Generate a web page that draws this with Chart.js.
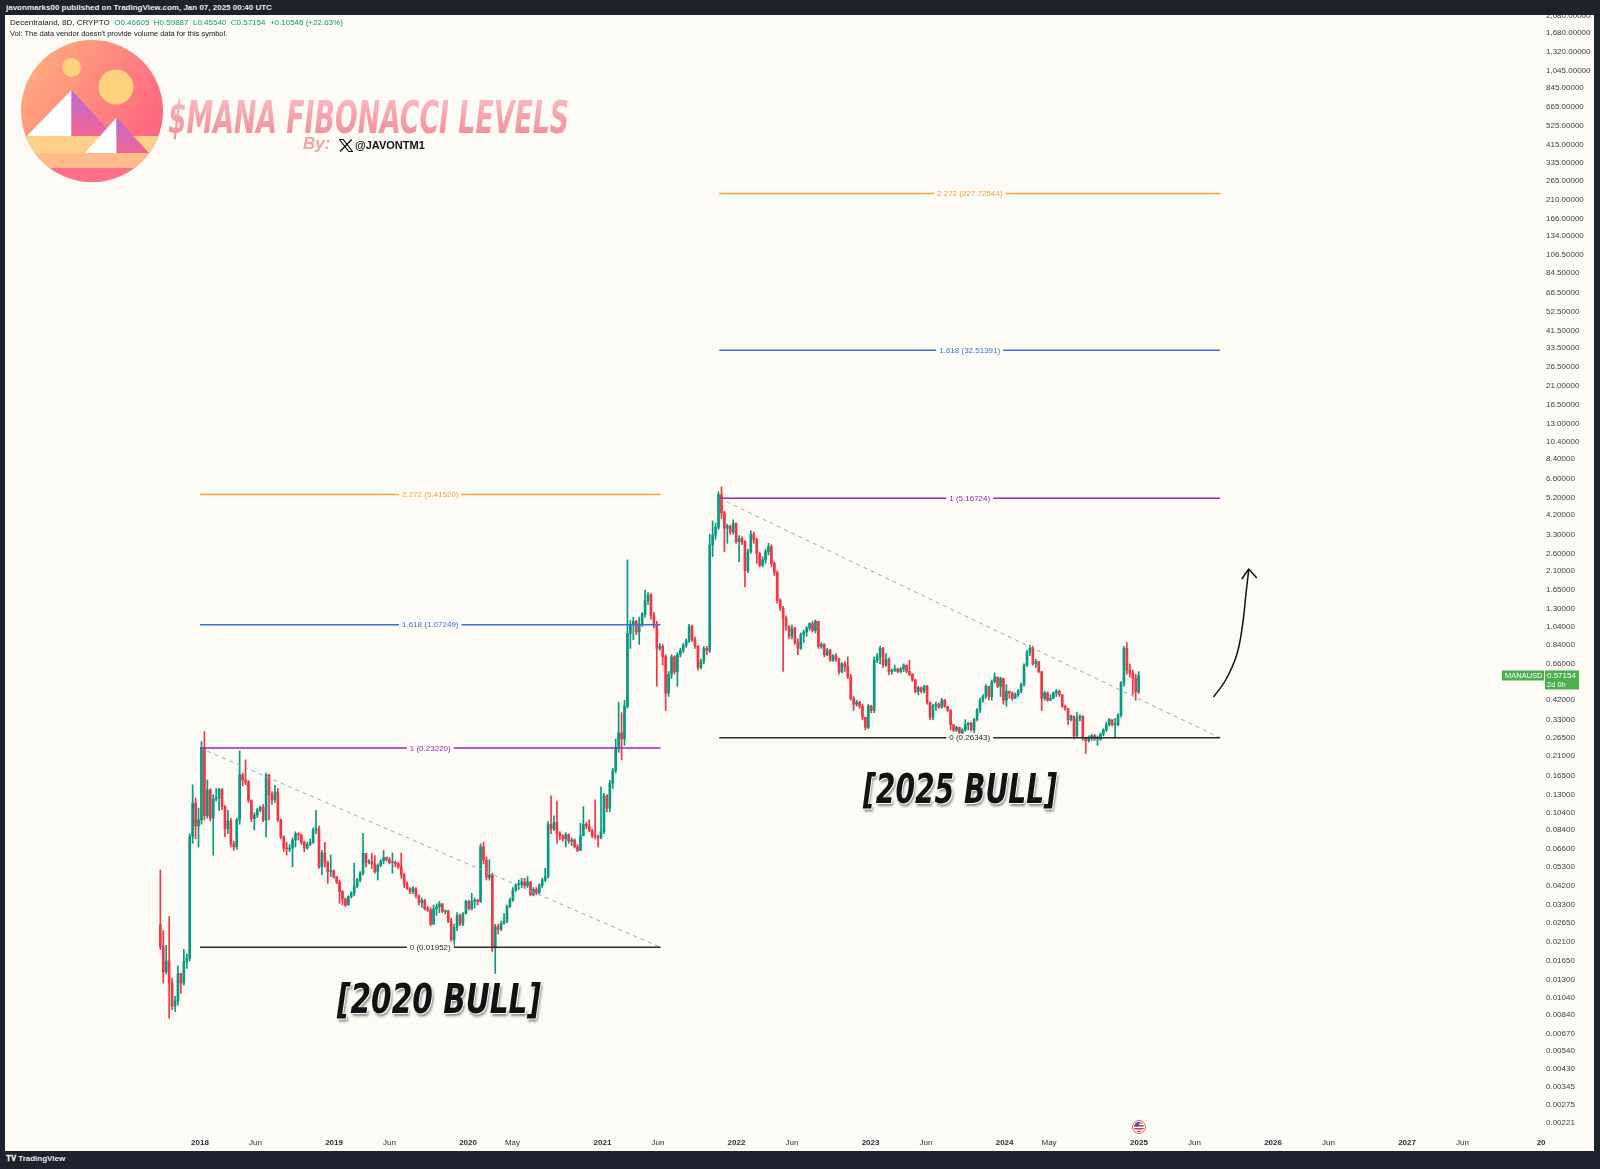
<!DOCTYPE html>
<html><head><meta charset="utf-8">
<script src="https://cdn.jsdelivr.net/npm/chart.js@4.4.1/dist/chart.umd.min.js"></script>
<style>
html,body{margin:0;padding:0;background:#1e222d;width:1600px;height:1169px;overflow:hidden;font-family:"Liberation Sans",Arial,sans-serif;}
.abs{position:absolute;white-space:nowrap;}
#pane{position:absolute;left:5px;top:15px;width:1589px;height:1136px;background:#fdfbf6;}
#chart{position:absolute;left:0;top:0;}
#topbar{left:6px;top:3px;color:#e8e9ec;font-size:8px;font-weight:bold;}
#legend1{left:10px;top:18px;color:#131722;font-size:8px;}
#legend1 .v{color:#089981;}
#legend2{left:10px;top:29px;color:#131722;font-size:7.5px;}
#title{left:168px;top:92px;font:italic bold 44px "Liberation Sans Narrow","DejaVu Sans Condensed","Liberation Sans",sans-serif;color:#f6a0a8;transform-origin:0 0;
  background:linear-gradient(180deg,#fbc3c8 0%,#f7a4ac 45%,#f08894 100%);-webkit-background-clip:text;background-clip:text;-webkit-text-fill-color:transparent;}
#by{left:303px;top:134px;font:italic bold 17px "Liberation Sans",sans-serif;color:#f4a3aa;}
#handle{left:355px;top:139px;font:bold 11px "Liberation Sans Narrow","Liberation Sans",sans-serif;color:#111;}
.bull{font:italic bold 40px "Liberation Sans Narrow","DejaVu Sans Condensed","Liberation Sans",sans-serif;color:#121212;transform-origin:0 0;
  text-shadow:0 0 1px #fff,1px 1px 0 #fff,2px 3px 3px rgba(0,0,0,0.45);}
#tvlogo{left:6px;top:1154px;color:#e8e9ec;font-size:8px;font-weight:bold;}
</style></head>
<body>
<div id="topbar" class="abs">javonmarks00 published on TradingView.com, Jan 07, 2025 00:40 UTC</div>
<div id="pane"><canvas id="chart" width="1589" height="1136"></canvas></div>
<div id="legend1" class="abs">Decentraland, 8D, CRYPTO&nbsp; <span class="v">O0.46605&nbsp; H0.59887&nbsp; L0.45540&nbsp; C0.57154&nbsp; +0.10546 (+22.63%)</span></div>
<div id="legend2" class="abs">Vol: The data vendor doesn't provide volume data for this symbol.</div>

<svg class="abs" style="left:0;top:0" width="200" height="200" viewBox="0 0 200 200">
  <defs>
    <linearGradient id="lg" x1="0" y1="0" x2="1" y2="0.6">
      <stop offset="0" stop-color="#ffb47c"/><stop offset="1" stop-color="#ff6480"/>
    </linearGradient>
    <linearGradient id="pg" x1="0" y1="0" x2="0" y2="1">
      <stop offset="0" stop-color="#b96ad6"/><stop offset="1" stop-color="#f26592"/>
    </linearGradient>
    <clipPath id="cc"><circle cx="92" cy="111" r="71"/></clipPath>
  </defs>
  <circle cx="92" cy="111" r="71" fill="url(#lg)"/>
  <g clip-path="url(#cc)">
    <circle cx="71.5" cy="67.5" r="9.5" fill="#ffd27e"/>
    <circle cx="116" cy="87" r="17.5" fill="#ffd27e"/>
    <polygon points="71.5,90 71.5,136 27,136" fill="#ffffff"/>
    <polygon points="71.5,90 114,136 71.5,136" fill="url(#pg)"/>
    <rect x="0" y="136" width="200" height="17" fill="#ffd08a"/>
    <polygon points="116.5,117.5 116.5,153 85,153" fill="#ffffff"/>
    <polygon points="116.5,117.5 149,153 116.5,153" fill="url(#pg)"/>
    <rect x="0" y="153" width="200" height="15" fill="#ffbb8c"/>
    <rect x="0" y="168" width="200" height="30" fill="#ff7088"/>
  </g>
</svg>
<div id="title" class="abs">$MANA FIBONACCI LEVELS</div>
<div id="by" class="abs">By:</div>
<svg class="abs" style="left:339px;top:139px" width="14" height="13" viewBox="0 0 14 13">
  <path d="M0.5 0.5 L4.2 0.5 L13.5 12.5 L9.8 12.5 Z" fill="none" stroke="#111" stroke-width="1.2"/>
  <path d="M12.8 0.5 L1 12.5" stroke="#111" stroke-width="1.3"/>
</svg>
<div id="handle" class="abs">@JAVONTM1</div>
<div id="bull1" class="abs bull">[2020 BULL]</div>
<div id="bull2" class="abs bull">[2025 BULL]</div>
<svg class="abs" style="left:1132px;top:1120px" width="14" height="14" viewBox="0 0 14 14">
  <defs><clipPath id="fc"><circle cx="7" cy="7" r="5"/></clipPath></defs>
  <circle cx="7" cy="7" r="6.5" fill="#fff" stroke="#e05a5a" stroke-width="1"/>
  <g clip-path="url(#fc)">
    <rect x="0" y="0" width="14" height="14" fill="#fff"/>
    <rect x="0" y="2" width="14" height="1.5" fill="#d33"/><rect x="0" y="5" width="14" height="1.5" fill="#d33"/>
    <rect x="0" y="8" width="14" height="1.5" fill="#d33"/><rect x="0" y="11" width="14" height="1.5" fill="#d33"/>
    <rect x="0" y="0" width="7" height="6.5" fill="#3b5bb5"/>
  </g>
</svg>
<div id="tvlogo" class="abs">&#x1D413;&#x1D415; TradingView</div>

<script>
// ---------------- DATA ----------------
const candleStart = '2017-09-15';   // first 8D candle
const candleStepDays = 8;
const firstOpen = 0.0258;
const closes = [
0.0197,0.0144,0.0165,0.0125,0.0094,0.0100,0.0141,0.0125,0.0163,0.0170,
0.0771,0.117,0.088,0.095,0.231,0.100,0.1377,0.097,0.123,0.125,
0.139,0.112,0.085,0.094,0.071,0.068,0.0949,0.166,0.156,0.152,
0.121,0.0965,0.1009,0.1074,0.111,0.095,0.166,0.130,0.122,0.134,
0.095,0.077,0.067,0.066,0.067,0.074,0.080,0.079,0.072,0.067,
0.070,0.072,0.0838,0.085,0.053,0.063,0.056,0.050,0.0505,0.047,
0.044,0.039,0.0355,0.033,0.0366,0.0382,0.0414,0.0450,0.0489,0.0627,
0.056,0.0565,0.055,0.050,0.054,0.057,0.0595,0.058,0.056,0.056,
0.055,0.053,0.048,0.043,0.0405,0.039,0.0405,0.037,0.034,0.035,
0.0315,0.031,0.026,0.0315,0.0323,0.0335,0.0305,0.0305,0.027,0.0214,
0.025,0.029,0.026,0.0297,0.0345,0.0315,0.0345,0.0351,0.0345,0.068,
0.0577,0.0465,0.048,0.0194,0.0252,0.0245,0.0262,0.027,0.0323,0.0351,
0.0398,0.0425,0.0425,0.044,0.042,0.044,0.0375,0.040,0.0385,0.042,
0.045,0.047,0.090,0.085,0.092,0.080,0.078,0.075,0.079,0.073,
0.074,0.068,0.065,0.078,0.090,0.088,0.083,0.078,0.077,0.076,
0.082,0.128,0.110,0.150,0.175,0.230,0.280,0.260,0.390,0.965,
1.07,1.12,0.98,1.08,1.22,1.45,1.55,1.20,1.06,0.80,
0.82,0.72,0.46,0.58,0.72,0.60,0.74,0.78,0.83,0.88,
1.05,0.89,0.82,0.63,0.68,0.80,0.78,2.89,3.27,3.60,
5.40,4.30,3.56,3.65,3.40,3.78,3.01,3.14,3.00,2.10,
2.66,3.30,3.10,2.60,2.25,2.40,2.66,2.83,2.30,2.05,
1.45,1.32,1.16,1.05,0.93,1.03,0.86,0.80,0.95,0.98,
1.03,1.09,1.00,1.12,0.82,0.84,0.74,0.78,0.69,0.73,
0.70,0.60,0.66,0.64,0.56,0.43,0.40,0.41,0.39,0.34,
0.30,0.39,0.37,0.69,0.72,0.80,0.65,0.70,0.60,0.61,
0.62,0.60,0.62,0.65,0.60,0.58,0.54,0.47,0.49,0.47,
0.50,0.41,0.34,0.39,0.40,0.385,0.42,0.39,0.37,0.31,
0.29,0.30,0.28,0.29,0.31,0.315,0.29,0.33,0.37,0.42,
0.44,0.50,0.44,0.53,0.56,0.50,0.55,0.42,0.47,0.46,
0.43,0.45,0.47,0.51,0.65,0.76,0.80,0.66,0.68,0.60,
0.43,0.46,0.42,0.43,0.46,0.47,0.45,0.39,0.38,0.33,
0.345,0.27,0.335,0.345,0.262,0.255,0.265,0.27,0.26,0.26,
0.275,0.29,0.31,0.33,0.31,0.31,0.35,0.52,0.80,0.61,
0.59,0.55,0.46605,0.57154];
const highs = [
0.051,0.024,0.020,0.0286,0.0133,0.0106,0.0155,0.0141,0.0190,0.0180,
0.080,0.147,0.125,0.110,0.251,0.285,0.156,0.140,0.130,0.140,
0.141,0.140,0.114,0.107,0.097,0.073,0.097,0.224,0.170,0.200,
0.155,0.122,0.104,0.110,0.113,0.115,0.170,0.168,0.135,0.146,
0.140,0.096,0.078,0.072,0.070,0.076,0.082,0.081,0.079,0.073,
0.072,0.075,0.086,0.107,0.088,0.065,0.072,0.057,0.0614,0.051,
0.047,0.045,0.0395,0.036,0.037,0.039,0.0555,0.046,0.050,0.0805,
0.062,0.058,0.0627,0.061,0.055,0.058,0.065,0.060,0.0595,0.063,
0.057,0.056,0.063,0.049,0.044,0.041,0.0415,0.041,0.0375,0.036,
0.0355,0.0325,0.032,0.033,0.0335,0.0345,0.0335,0.031,0.031,0.028,
0.026,0.030,0.0295,0.030,0.035,0.035,0.0382,0.036,0.0355,0.0705,
0.072,0.060,0.058,0.049,0.026,0.026,0.027,0.0297,0.033,0.036,
0.041,0.043,0.045,0.046,0.046,0.047,0.044,0.041,0.041,0.043,
0.046,0.052,0.093,0.128,0.100,0.120,0.082,0.079,0.081,0.080,
0.076,0.075,0.070,0.091,0.112,0.092,0.095,0.085,0.122,0.079,
0.143,0.132,0.130,0.155,0.180,0.260,0.410,0.360,0.420,2.400,
1.13,1.18,1.13,1.18,1.25,1.65,1.60,1.58,1.25,1.12,
0.85,0.84,0.74,0.60,0.74,0.73,0.76,0.80,0.85,0.90,
1.08,1.07,0.92,0.83,0.70,0.82,0.82,3.30,3.90,3.80,
5.60,5.95,4.40,3.75,3.70,3.95,3.80,3.25,3.20,3.05,
2.75,3.45,3.40,3.15,2.65,2.50,2.75,2.95,2.90,2.35,
2.10,1.48,1.35,1.20,1.06,1.07,1.04,0.90,0.97,1.00,
1.05,1.10,1.12,1.14,1.12,0.86,0.85,0.80,0.79,0.74,
0.75,0.71,0.67,0.68,0.72,0.58,0.44,0.42,0.415,0.40,
0.34,0.40,0.395,0.72,0.75,0.82,0.81,0.75,0.71,0.62,
0.65,0.625,0.63,0.66,0.65,0.69,0.585,0.545,0.50,0.495,
0.505,0.505,0.41,0.40,0.41,0.405,0.43,0.425,0.39,0.375,
0.31,0.305,0.30,0.295,0.33,0.32,0.32,0.335,0.38,0.43,
0.45,0.51,0.50,0.54,0.59,0.56,0.56,0.55,0.51,0.47,
0.465,0.46,0.48,0.52,0.66,0.78,0.83,0.82,0.70,0.67,
0.60,0.47,0.465,0.45,0.465,0.48,0.475,0.45,0.395,0.38,
0.35,0.345,0.36,0.35,0.345,0.265,0.27,0.275,0.275,0.27,
0.28,0.295,0.32,0.335,0.33,0.335,0.355,0.53,0.82,0.86,
0.66,0.61,0.58,0.59887];
const lows = [
0.019,0.0125,0.0140,0.0081,0.0090,0.0088,0.0095,0.0110,0.0122,0.0150,
0.0165,0.071,0.075,0.068,0.090,0.095,0.097,0.094,0.0614,0.120,
0.107,0.108,0.077,0.080,0.068,0.065,0.066,0.090,0.145,0.147,
0.118,0.093,0.0838,0.098,0.105,0.093,0.077,0.095,0.115,0.118,
0.093,0.075,0.064,0.0614,0.064,0.053,0.068,0.074,0.070,0.064,
0.066,0.069,0.071,0.080,0.052,0.048,0.053,0.0432,0.0469,0.046,
0.043,0.0337,0.033,0.0323,0.033,0.036,0.037,0.041,0.044,0.048,
0.053,0.055,0.052,0.049,0.045,0.053,0.055,0.057,0.055,0.049,
0.053,0.052,0.046,0.041,0.040,0.038,0.038,0.036,0.033,0.032,
0.031,0.0305,0.0255,0.026,0.029,0.030,0.030,0.0295,0.0265,0.021,
0.0197,0.024,0.0255,0.0255,0.0295,0.031,0.031,0.0318,0.033,0.034,
0.055,0.045,0.045,0.0185,0.0141,0.023,0.024,0.026,0.0265,0.032,
0.0345,0.039,0.040,0.041,0.041,0.041,0.037,0.037,0.0375,0.038,
0.041,0.044,0.046,0.080,0.083,0.071,0.074,0.073,0.068,0.071,
0.069,0.067,0.064,0.065,0.078,0.085,0.082,0.076,0.075,0.068,
0.075,0.080,0.105,0.105,0.140,0.170,0.220,0.200,0.240,0.380,
0.80,0.89,0.95,0.84,1.05,1.18,1.38,1.15,1.03,0.50,
0.78,0.65,0.37,0.44,0.55,0.58,0.50,0.72,0.76,0.81,
0.86,0.87,0.80,0.61,0.62,0.66,0.74,0.76,2.50,3.10,
3.50,4.00,2.66,2.95,3.30,3.30,2.95,2.35,2.90,1.72,
2.05,2.60,2.95,2.30,2.20,2.20,2.30,2.55,2.20,1.98,
1.40,1.28,0.60,1.00,0.90,0.90,0.84,0.74,0.79,0.86,
0.93,1.00,0.98,0.97,0.80,0.80,0.72,0.73,0.68,0.68,
0.68,0.58,0.59,0.60,0.55,0.42,0.37,0.39,0.38,0.33,
0.29,0.295,0.36,0.36,0.67,0.66,0.63,0.64,0.575,0.58,
0.60,0.59,0.59,0.60,0.59,0.57,0.53,0.46,0.45,0.46,
0.46,0.40,0.33,0.33,0.37,0.38,0.38,0.385,0.365,0.29,
0.285,0.285,0.272,0.275,0.285,0.29,0.285,0.28,0.325,0.36,
0.41,0.43,0.42,0.42,0.52,0.49,0.44,0.40,0.39,0.43,
0.42,0.43,0.44,0.46,0.50,0.64,0.73,0.65,0.63,0.59,
0.37,0.42,0.415,0.42,0.43,0.44,0.44,0.385,0.37,0.31,
0.325,0.26,0.265,0.325,0.255,0.217,0.25,0.255,0.255,0.24,
0.255,0.27,0.285,0.305,0.305,0.262,0.305,0.34,0.50,0.58,
0.56,0.45,0.42,0.45540];

const yTickValues = [2080,1680,1320,1045,845,665,525,415,335,265,210,166,134,106.5,84.5,66.5,52.5,41.5,33.5,26.5,21,16.5,13,10.4,8.4,6.6,5.2,4.2,3.3,2.6,2.1,1.65,1.3,1.04,0.84,0.66,0.42,0.33,0.265,0.21,0.165,0.13,0.104,0.084,0.066,0.053,0.042,0.033,0.0265,0.021,0.0165,0.013,0.0104,0.0084,0.0067,0.0054,0.0043,0.00345,0.00275,0.00221];
const xTickDates = ['2018-01-01','2018-06-01','2019-01-01','2019-06-01','2020-01-01','2020-05-01','2021-01-01','2021-06-01','2022-01-01','2022-06-01','2023-01-01','2023-06-01','2024-01-01','2024-05-01','2025-01-01','2025-06-01','2026-01-01','2026-06-01','2027-01-01','2027-06-01','2028-01-01'];
const xTickLabels = ['2018','Jun','2019','Jun','2020','May','2021','Jun','2022','Jun','2023','Jun','2024','May','2025','Jun','2026','Jun','2027','Jun','20'];

const fibLevels = ['2.272','1.618','1','0'];
const fibLeftPrices = [5.41520, 1.07249, 0.23220, 0.01952];
const fibRightPrices = [227.72544, 32.51391, 5.16724, 0.26343];
const fibLeftRange = ['2018-01-01','2021-06-08'];
const fibRightRange = ['2021-11-15','2025-08-10'];
const trendLeft = [['2018-01-01',0.23220],['2021-06-08',0.01952]];
const trendRight = [['2021-11-15',5.16724],['2025-08-10',0.26343]];
const arrowPath = [['2025-07-23',0.437],['2025-08-25',0.540],['2025-09-24',0.737],['2025-10-10',1.07],['2025-10-19',1.552],['2025-10-27',2.145]];
const lastClose = 0.57154;

// ---------------- BUILD ----------------
const DAY0 = Date.UTC(2017,0,1);
const dayNum = s => (Date.parse(s + 'T00:00:00Z') - DAY0) / 86400000;
const UP = '#089981', DOWN = '#f23645', BG = '#fdfbf6';
const fibColors = ['#f2a33a','#3d6fe0','#9c27b0','#2b2b2b'];
const t0 = dayNum(candleStart);
const xs = closes.map((c, i) => t0 + candleStepDays * i);
const opens = closes.map((c, i) => i === 0 ? firstOpen : closes[i - 1]);
const colors = closes.map((c, i) => c >= opens[i] ? UP : DOWN);
const bodyData = closes.map((c, i) => ({x: xs[i], y: [opens[i], c]}));
const wickData = closes.map((c, i) => ({x: xs[i], y: [lows[i], highs[i]]}));

const fibSets = [
  {start: dayNum(fibLeftRange[0]), end: dayNum(fibLeftRange[1]), prices: fibLeftPrices},
  {start: dayNum(fibRightRange[0]), end: dayNum(fibRightRange[1]), prices: fibRightPrices}
];
const lineDatasets = [];
fibSets.forEach(set => set.prices.forEach((p, k) => {
  lineDatasets.push({type: 'line', data: [{x: set.start, y: p}, {x: set.end, y: p}],
    borderColor: fibColors[k], borderWidth: 1.5, pointRadius: 0, order: 1});
}));
[trendLeft, trendRight].forEach(t => lineDatasets.push({type: 'line',
  data: t.map(([d, p]) => ({x: dayNum(d), y: p})), borderColor: '#a3a6ad', borderWidth: 1,
  borderDash: [4, 4], pointRadius: 0, order: 1}));
lineDatasets.push({type: 'line', data: arrowPath.map(([d, p]) => ({x: dayNum(d), y: p})),
  borderColor: '#111', borderWidth: 1.5, pointRadius: 0, tension: 0.4, order: 0});

const xTicks = xTickDates.map(dayNum);
const fmtPrice = v => Number(v).toLocaleString('en-US', {minimumFractionDigits: 5, maximumFractionDigits: 5});

const overlay = {
  id: 'overlay',
  afterDraw(chart) {
    const {ctx, scales: {x, y}} = chart;
    ctx.save();
    ctx.font = '8px "Liberation Sans", Arial, sans-serif';
    ctx.textAlign = 'center'; ctx.textBaseline = 'middle';
    fibSets.forEach(set => set.prices.forEach((p, k) => {
      const xm = x.getPixelForValue((set.start + set.end) / 2);
      const yp = y.getPixelForValue(p);
      const txt = fibLevels[k] + ' (' + p.toFixed(5) + ')';
      const w = ctx.measureText(txt).width + 6;
      ctx.fillStyle = BG; ctx.fillRect(xm - w / 2, yp - 4, w, 8);
      ctx.fillStyle = fibColors[k]; ctx.fillText(txt, xm, yp + 0.5);
    }));
    // arrow head
    const last = arrowPath[arrowPath.length - 1];
    const tx = x.getPixelForValue(dayNum(last[0])), ty = y.getPixelForValue(last[1]);
    ctx.strokeStyle = '#111'; ctx.lineWidth = 1.5; ctx.lineJoin = 'round';
    ctx.beginPath(); ctx.moveTo(tx - 7, ty + 10); ctx.lineTo(tx, ty); ctx.lineTo(tx + 8, ty + 9); ctx.stroke();
    // price labels
    const py = y.getPixelForValue(lastClose);
    const ca = chart.chartArea;
    ctx.fillStyle = '#4caf50';
    ctx.fillRect(ca.right - 38, py - 5, 42, 10);
    ctx.fillRect(ca.right + 5, py - 5, 34, 19);
    ctx.fillStyle = '#fff'; ctx.textAlign = 'left';
    ctx.font = '7.5px "Liberation Sans", Arial, sans-serif';
    ctx.fillText('MANAUSD', ca.right - 35, py + 0.5);
    ctx.font = '8px "Liberation Sans", Arial, sans-serif';
    ctx.fillText(fmtPrice(lastClose), ca.right + 7, py + 0.5);
    ctx.font = '7.5px "Liberation Sans", Arial, sans-serif';
    ctx.fillText('2d 0h', ca.right + 7, py + 9);
    ctx.restore();
  }
};

Chart.defaults.font.family = '"Liberation Sans", Arial, sans-serif';
new Chart(document.getElementById('chart'), {
  type: 'bar',
  data: {datasets: [
    {type: 'bar', data: wickData, backgroundColor: colors, barThickness: 1, grouped: false, minBarLength: 1, order: 3},
    {type: 'bar', data: bodyData, backgroundColor: colors, barThickness: 2, grouped: false, minBarLength: 1, order: 2},
    ...lineDatasets
  ]},
  options: {
    responsive: false, animation: false, devicePixelRatio: 1,
    layout: {padding: 0},
    plugins: {legend: {display: false}, tooltip: {enabled: false}},
    scales: {
      x: {type: 'linear', min: -166, max: 4014, offset: false,
        grid: {display: false, drawTicks: false}, border: {display: false},
        afterBuildTicks: s => { s.ticks = xTicks.map(v => ({value: v})); },
        afterFit: s => { s.height = 21; s.paddingLeft = 0; s.paddingRight = 0; },
        ticks: {autoSkip: false, maxRotation: 0, padding: 8, color: '#2a2e39',
          callback: v => { const k = xTicks.indexOf(v); return k >= 0 ? xTickLabels[k] : ''; },
          font: ctx => ({size: 8, weight: (ctx.tick && /^\d+$/.test(String(ctx.tick.label))) ? 'bold' : 'normal'})}
      },
      y: {type: 'logarithmic', position: 'right', min: 0.002017, max: 2090,
        grid: {display: false, drawTicks: false}, border: {display: false},
        afterBuildTicks: s => { s.ticks = yTickValues.map(v => ({value: v})); },
        afterFit: s => { s.width = 54; s.paddingTop = 0; s.paddingBottom = 0; },
        ticks: {autoSkip: false, padding: 6, color: '#3a3e48', font: {size: 8}, align: 'center',
          callback: v => fmtPrice(v)}
      }
    }
  },
  plugins: [overlay]
});

// fit decorative text widths
function fit(id, left, top, width) {
  const el = document.getElementById(id);
  el.style.left = left + 'px'; el.style.top = top + 'px';
  const w = el.getBoundingClientRect().width;
  el.style.transform = 'scaleX(' + (width / w) + ')';
}
fit('title', 168, 92, 401);
fit('bull1', 337, 976, 204);
fit('bull2', 863, 766, 194);
</script>
</body></html>
